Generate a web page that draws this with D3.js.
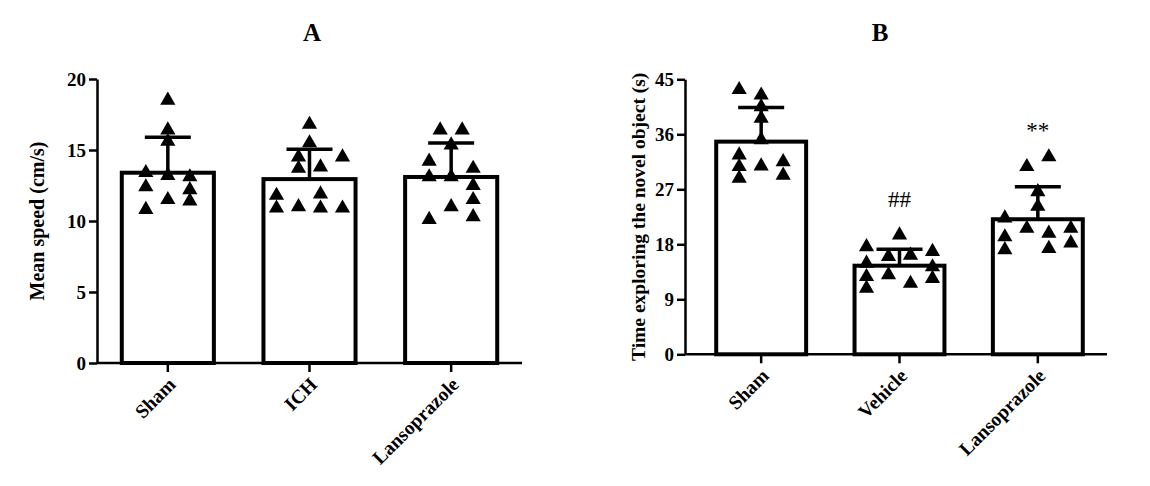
<!DOCTYPE html>
<html>
<head>
<meta charset="utf-8">
<script src="https://cdn.jsdelivr.net/npm/d3@7"></script>
<style>
  body { margin: 0; background: #fff; }
  text { font-family: 'Liberation Serif', 'Times New Roman', serif; }
</style>
</head>
<body>
<svg id="chart"></svg>
<script>
// panel A - mean speed
const groupsA = ['Sham', 'ICH', 'Lansoprazole'];
const meansA = [13.4, 12.95, 13.1];
const sdA = [2.5, 2.1, 2.4];
const pointsA = [
    [18.5, 16.4, 15.6, 13.4, 12.4, 13.2, 13.1, 12.2, 11.5, 11.4, 10.8],
    [16.8, 15.5, 14.5, 14.5, 13.7, 13.8, 11.8, 11.9, 10.9, 11.0, 10.9, 10.9],
    [16.4, 16.4, 15.35, 14.2, 13.1, 13.1, 13.7, 12.5, 11.5, 10.3, 11.0, 10.1]
];
const lanesA = [
    [0, 0, 0, -2, -2, 0, 2, 2, 0, 2, -2],
    [0, 0, -1, 3, -1, 1, -3, 1, -3, -1, 1, 3],
    [-1, 1, 0, -2, -2, 0, 2, 2, 2, 2, 0, -2]
];
const ticksA = [0, 5, 10, 15, 20];

// panel B - novel object exploration
const groupsB = ['Sham', 'Vehicle', 'Lansoprazole'];
const meansB = [34.8, 14.5, 22.1];
const sdB = [5.6, 2.7, 5.3];
const pointsB = [
    [43.3, 42.4, 40.5, 38.6, 35.1, 32.6, 30.7, 28.8, 30.8, 31.5, 29.3],
    [19.5, 17.6, 14.9, 12.7, 10.8, 16.0, 13.0, 16.2, 11.6, 16.8, 14.3, 12.4],
    [32.3, 30.7, 26.6, 24.2, 22.3, 19.2, 17.1, 20.6, 19.8, 17.3, 20.6, 18.2]
];
const lanesB = [
    [-2, 0, 0, 0, 0, -2, -2, -2, 0, 2, 2],
    [0, -3, -3, -3, -3, -1, -1, 1, 1, 3, 3, 3],
    [1, -1, 0, 0, -3, -3, -3, -1, 1, 1, 3, 3]
];
const ticksB = [0, 9, 18, 27, 36, 45];
const marksB = ['', '##', '**'];

class DotBarChart {

    constructor( config, data ) {
        this.config = {
            svg: config.svg,
            left: config.left,
            right: config.right,
            bandLeft: config.bandLeft || config.left,
            top: config.top,
            bottom: config.bottom,
            ymax: config.ymax,
            ticks: config.ticks,
            title: config.title || '',
            titleX: config.titleX,
            ylabel: config.ylabel || '',
            ylabelX: config.ylabelX,
            ylabelSize: config.ylabelSize || 18
        }
        this.data = data;
        this.init();
    }

    init() {
        let self = this;
        let c = self.config;

        self.chart = c.svg.append('g');

        self.x = d3.scaleBand()
            .domain(self.data.groups)
            .range([c.bandLeft, c.right])
            .paddingInner(0.35)
            .paddingOuter(0.175);

        self.y = d3.scaleLinear()
            .domain([0, c.ymax])
            .range([c.bottom, c.top]);

        self.lane = d3.scaleLinear()
            .domain([-1, 1])
            .range([-11, 11]);

        self.symbol = d3.symbol().type(d3.symbolTriangle).size(100);
    }

    render() {
        let self = this;
        let c = self.config;
        let d = self.data;
        const font = "'Liberation Serif', 'Times New Roman', serif";

        // title
        c.svg.append('text')
            .attr('x', c.titleX)
            .attr('y', 41)
            .attr('text-anchor', 'middle')
            .style('font-size', '25px')
            .style('font-weight', 'bold')
            .text(c.title);

        // bars
        const rows = d.groups.map((g, i) => ({ g: g, mean: d.means[i], sd: d.sds[i], i: i }));

        self.chart.selectAll('rect.bar')
            .data(rows)
            .join('rect')
            .attr('class', 'bar')
            .attr('x', r => self.x(r.g))
            .attr('width', self.x.bandwidth())
            .attr('y', r => self.y(r.mean))
            .attr('height', r => self.y(0) - self.y(r.mean))
            .attr('fill', 'white')
            .attr('stroke', 'black')
            .attr('stroke-width', 4);

        // points
        const pts = [];
        d.points.forEach((arr, i) => arr.forEach((v, j) => pts.push({ g: d.groups[i], v: v, lane: d.lanes[i][j] })));

        self.chart.selectAll('path.pt')
            .data(pts)
            .join('path')
            .attr('class', 'pt')
            .attr('d', self.symbol)
            .attr('transform', p => `translate(${self.x(p.g) + self.x.bandwidth() / 2 + self.lane(p.lane)}, ${self.y(p.v)})`)
            .attr('fill', 'black');

        // error bars
        const cx = r => self.x(r.g) + self.x.bandwidth() / 2;
        self.chart.selectAll('line.err')
            .data(rows)
            .join('line')
            .attr('class', 'err')
            .attr('x1', cx).attr('x2', cx)
            .attr('y1', r => self.y(r.mean))
            .attr('y2', r => self.y(r.mean + r.sd))
            .attr('stroke', 'black')
            .attr('stroke-width', 3.5);

        self.chart.selectAll('line.cap')
            .data(rows)
            .join('line')
            .attr('class', 'cap')
            .attr('x1', r => cx(r) - 23).attr('x2', r => cx(r) + 23)
            .attr('y1', r => self.y(r.mean + r.sd))
            .attr('y2', r => self.y(r.mean + r.sd))
            .attr('stroke', 'black')
            .attr('stroke-width', 3.5);

        // significance marks
        if (d.marks) {
            self.chart.selectAll('text.mark')
                .data(rows.filter(r => d.marks[r.i]))
                .join('text')
                .attr('class', 'mark')
                .attr('x', cx)
                .attr('y', r => d.marks[r.i] === '**' ? self.y(r.mean + r.sd) - 49 : self.y(r.mean + r.sd) - 42)
                .attr('text-anchor', 'middle')
                .style('font-size', '23px')
                .text(r => d.marks[r.i]);
        }

        // y axis
        const yAxis = self.chart.append('g')
            .attr('transform', `translate(${c.left},0)`)
            .call(d3.axisLeft(self.y).tickValues(c.ticks).tickSize(8).tickPadding(3).tickSizeOuter(0));
        yAxis.select('.domain').attr('stroke-width', 2.5);
        yAxis.selectAll('.tick line').attr('stroke-width', 2.5);
        yAxis.selectAll('.tick text')
            .style('font-family', font)
            .style('font-size', '19px')
            .style('font-weight', 'bold')
            .attr('fill', 'black');

        // x axis
        const xAxisG = self.chart.append('g')
            .attr('transform', `translate(0,${c.bottom})`);
        xAxisG.append('line')
            .attr('x1', c.left).attr('x2', c.right)
            .attr('stroke', 'black').attr('stroke-width', 2.5);
        xAxisG.selectAll('line.xt')
            .data(d.groups)
            .join('line')
            .attr('class', 'xt')
            .attr('x1', g => self.x(g) + self.x.bandwidth() / 2)
            .attr('x2', g => self.x(g) + self.x.bandwidth() / 2)
            .attr('y1', 0).attr('y2', 9)
            .attr('stroke', 'black').attr('stroke-width', 2.5);
        xAxisG.selectAll('text.xl')
            .data(d.groups)
            .join('text')
            .attr('class', 'xl')
            .attr('transform', g => `translate(${self.x(g) + self.x.bandwidth() / 2 + 4}, 18) rotate(-45)`)
            .attr('text-anchor', 'end')
            .attr('dy', '0.35em')
            .style('font-size', '19.5px')
            .style('font-weight', 'bold')
            .text(g => g);

        // y label
        c.svg.append('text')
            .attr('transform', `translate(${c.ylabelX}, ${(c.top + c.bottom) / 2}) rotate(-90)`)
            .attr('text-anchor', 'middle')
            .attr('dy', '0.35em')
            .style('font-size', c.ylabelSize + 'px')
            .style('font-weight', 'bold')
            .text(c.ylabel);
    }
}

const svg = d3.select('#chart').attr('width', 1150).attr('height', 486);

const chartA = new DotBarChart({
    svg: svg, left: 97, right: 522, top: 79, bottom: 363,
    ymax: 20, ticks: ticksA, title: 'A', titleX: 312,
    ylabel: 'Mean speed (cm/s)', ylabelX: 37, ylabelSize: 20
}, { groups: groupsA, means: meansA, sds: sdA, points: pointsA, lanes: lanesA });
chartA.render();

const chartB = new DotBarChart({
    svg: svg, left: 685, right: 1107, bandLeft: 692, top: 79.3, bottom: 354.3,
    ymax: 45, ticks: ticksB, title: 'B', titleX: 880,
    ylabel: 'Time exploring the novel object (s)', ylabelX: 638, ylabelSize: 19.5
}, { groups: groupsB, means: meansB, sds: sdB, points: pointsB, lanes: lanesB, marks: marksB });
chartB.render();
</script>
</body>
</html>
